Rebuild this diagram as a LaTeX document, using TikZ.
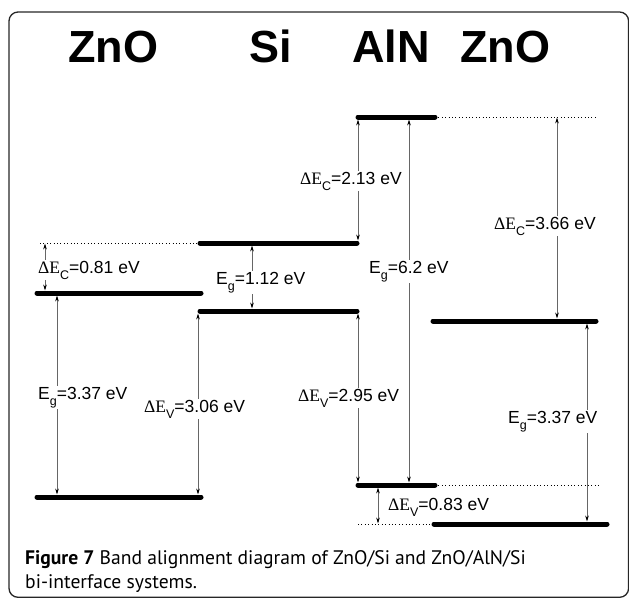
\documentclass[tikz,border=0pt]{standalone}
\usepackage{fontspec}
\setmainfont{Liberation Sans}
\newfontfamily\tms{Liberation Serif}
\newfontfamily\capfont{PT Sans}
\usetikzlibrary{arrows.meta}
\newcommand\lsub[1]{\raisebox{-0.36em}{\fontsize{12.5}{12.5}\selectfont #1}}
\newcommand\dEx[1]{{\tms ΔE}\lsub{#1}}
\newcommand\Egx{E\lsub{g}}
\begin{document}
\begin{tikzpicture}[x=1pt,y=-1pt,
  level/.style={line width=5pt,line cap=round},
  dotline/.style={line width=1pt,dash pattern=on 1pt off 2.4pt},
  arr/.style={draw=black!60,line width=0.8pt,{Stealth[length=6pt,width=3.6pt,black]}-{Stealth[length=6pt,width=3.6pt,black]}},
  lab/.style={fill=white,inner sep=1pt,anchor=base west,font=\fontsize{17.5}{17.5}\selectfont},
  title/.style={font=\fontsize{45}{45}\selectfont\bfseries,anchor=base},
  capt/.style={font=\capfont\fontsize{19.6}{19.6}\selectfont,anchor=base west,inner sep=0pt}]
\useasboundingbox (0,0) rectangle (629,598);
\draw[line width=1.3pt,rounded corners=9pt,black!85] (9,12) rectangle (628.6,597.3);
% titles
\node[title] (t1) at (113,62) {ZnO};
\node[title] (t2) at (271,62) {Si};
\node[title] (t3) at (391,62) {AlN};
\node[title] (t4) at (505,62) {ZnO};
% level endpoints
\coordinate (zlc1) at (37,293); \coordinate (zlc2) at (201,293);
\coordinate (zlv1) at (37,497); \coordinate (zlv2) at (201,497);
\coordinate (sc1) at (200,243); \coordinate (sc2) at (357,243);
\coordinate (sv1) at (200,311); \coordinate (sv2) at (357,311);
\coordinate (ac1) at (358,117); \coordinate (ac2) at (435,117);
\coordinate (av1) at (358,485); \coordinate (av2) at (435,485);
\coordinate (zrc1) at (433,321); \coordinate (zrc2) at (596,321);
\coordinate (zrv1) at (434,524); \coordinate (zrv2) at (607,524);
\coordinate (d1a) at (40,243); \coordinate (d2b) at (595,117);
\coordinate (d3b) at (600,485); \coordinate (d4a) at (358,524);
% dotted lines
\draw[dotline] (d1a) -- (sc1);
\draw[dotline] (ac2) -- (d2b);
\draw[dotline] (av2) -- (d3b);
\draw[dotline] (d4a) -- (zrv1);
% levels
\draw[level] (zlc1) -- (zlc2);
\draw[level] (zlv1) -- (zlv2);
\draw[level] (sc1) -- (sc2);
\draw[level] (sv1) -- (sv2);
\draw[level] (ac1) -- (ac2);
\draw[level] (av1) -- (av2);
\draw[level] (zrc1) -- (zrc2);
\draw[level] (zrv1) -- (zrv2);
% arrow end coordinates
\coordinate (a1t) at (45,243.5); \coordinate (a1b) at (45,290.5);
\coordinate (a2t) at (57,295.5); \coordinate (a2b) at (57,494.5);
\coordinate (a3t) at (252,245.5); \coordinate (a3b) at (252,308.5);
\coordinate (a4t) at (198,313.5); \coordinate (a4b) at (198,494.5);
\coordinate (a5t) at (358,119.5); \coordinate (a5b) at (358,240.5);
\coordinate (a6t) at (409,119.5); \coordinate (a6b) at (409,482.5);
\coordinate (a7t) at (557,117.5); \coordinate (a7b) at (557,318.5);
\coordinate (a8t) at (358,313.5); \coordinate (a8b) at (358,482.5);
\coordinate (a9t) at (587,323.5); \coordinate (a9b) at (587,521.5);
\coordinate (a10t) at (378,487.5); \coordinate (a10b) at (378,523.5);
\draw[arr] (a1t) -- (a1b);
\draw[arr] (a2t) -- (a2b);
\draw[arr] (a3t) -- (a3b);
\draw[arr] (a4t) -- (a4b);
\draw[arr] (a5t) -- (a5b);
\draw[arr] (a6t) -- (a6b);
\draw[arr] (a7t) -- (a7b);
\draw[arr] (a8t) -- (a8b);
\draw[arr] (a9t) -- (a9b);
\draw[arr] (a10t) -- (a10b);
% labels
\node[lab] (l1) at (37,273) {\dEx{C}=0.81 eV};
\node[lab] (l2) at (37,399) {\Egx=3.37 eV};
\node[lab] (l3) at (215,284) {\Egx=1.12 eV};
\node[lab] (l4) at (143,412) {\dEx{V}=3.06 eV};
\node[lab] (l5) at (299,184) {\dEx{C}=2.13 eV};
\node[lab] (l6) at (368,273) {\Egx=6.2 eV};
\node[lab] (l7) at (493,229) {\dEx{C}=3.66 eV};
\node[lab] (l8) at (297,401) {\dEx{V}=2.95 eV};
\node[lab] (l9) at (507,423) {\Egx=3.37 eV};
\node[lab] (l10) at (387,510) {\dEx{V}=0.83 eV};
% caption
\node[capt] (c1) at (25,564) {\textbf{Figure 7} Band alignment diagram of ZnO/Si and ZnO/AlN/Si};
\node[capt] (c2) at (25,588) {bi-interface systems.};
\end{tikzpicture}
\end{document}
